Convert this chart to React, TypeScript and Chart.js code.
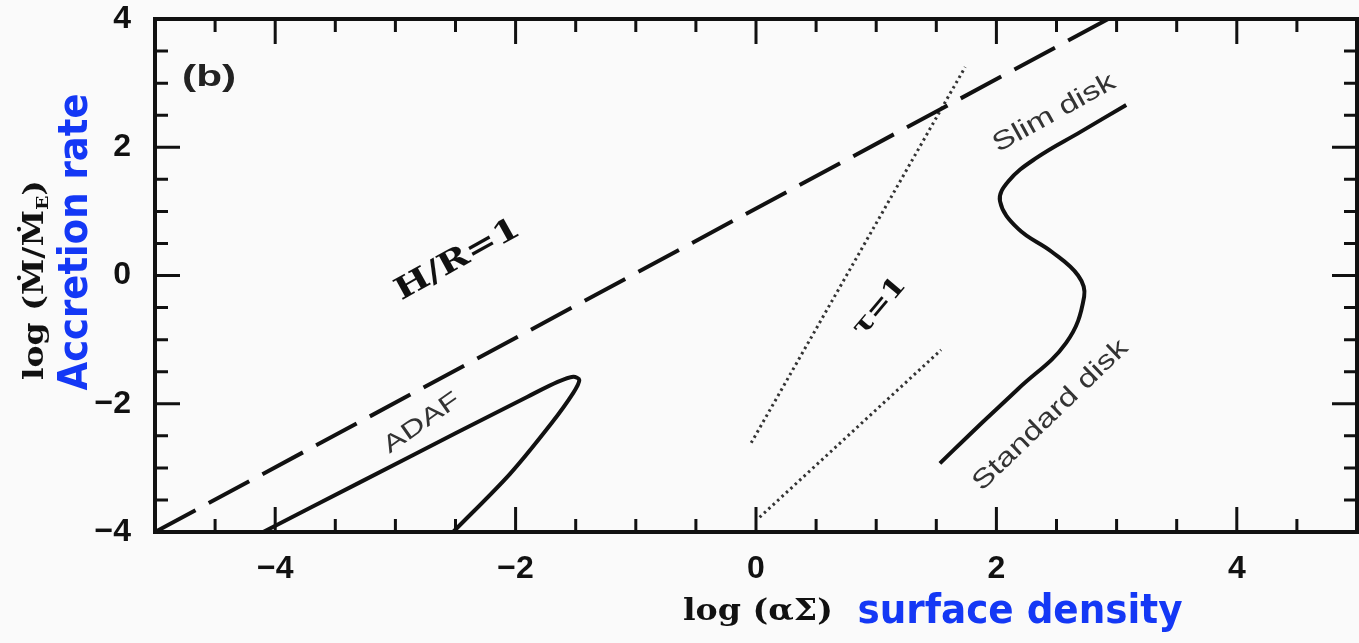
import React, { useEffect, useRef } from "react";
import { Chart, registerables } from "chart.js";

Chart.register(...registerables);

// ---- axis ticks ----
const xTickValues = [-4, -2, 0, 2, 4];
const xTickLabels = ["−4", "−2", "0", "2", "4"];
const yTickValues = [-4, -2, 0, 2, 4];
const yTickLabels = ["−4", "−2", "0", "2", "4"];
const xMinorTicks = [-4.5, -3.5, -3, -2.5, -1.5, -1, -0.5, 0.5, 1, 1.5, 2.5, 3, 3.5, 4.5];
const yMinorTicks = [-3.5, -3, -2.5, -1.5, -1, -0.5, 0.5, 1, 1.5, 2.5, 3, 3.5];

// ---- curves ----
const hrX = [-5, 2.93];
const hrY = [-4, 4];

const adafX = [-4.1, -3.3, -2.5, -1.9, -1.65, -1.52, -1.47, -1.52, -1.7, -2.05, -2.52];
const adafY = [-4, -3.23, -2.46, -1.89, -1.66, -1.58, -1.63, -1.83, -2.3, -3.1, -4];

const diskX = [1.53, 1.85, 2.18, 2.58, 2.73, 2.68, 2.46, 2.18, 2.03, 2.1, 2.33, 2.7, 3.08];
const diskY = [-2.93, -2.35, -1.77, -1.05, -0.33, 0.0, 0.37, 0.73, 1.16, 1.47, 1.83, 2.24, 2.66];

const tauUpperX = [-0.04, 1.74];
const tauUpperY = [-2.61, 3.25];
const tauLowerX = [0.03, 1.54];
const tauLowerY = [-3.77, -1.16];

// ---- in-plot labels (data coords) ----
const labelTexts = ["H/R=1", "τ=1", "ADAF", "Slim disk", "Standard disk", "(b)"];
const labelX = [-2.48, 1.03, -2.78, 2.48, 2.45, -4.55];
const labelY = [0.24, -0.49, -2.3, 2.53, -2.18, 3.08];

const pts = (xs: number[], ys: number[]) => xs.map((x, i) => ({ x, y: ys[i] }));

function drawFitted(
  ctx: CanvasRenderingContext2D,
  text: string,
  x: number,
  y: number,
  angleDeg: number,
  font: string,
  color: string,
  width?: number
) {
  ctx.save();
  ctx.translate(x, y);
  ctx.rotate((angleDeg * Math.PI) / 180);
  ctx.font = font;
  ctx.fillStyle = color;
  ctx.textAlign = "center";
  ctx.textBaseline = "middle";
  if (width) {
    const w = ctx.measureText(text).width;
    ctx.scale(width / w, 1);
  }
  ctx.fillText(text, 0, 0);
  ctx.restore();
}

const framePlugin = {
  id: "frame",
  beforeDraw(chart: any) {
    const ctx = chart.ctx;
    ctx.save();
    ctx.fillStyle = "#fafafa";
    ctx.fillRect(0, 0, chart.width, chart.height);
    ctx.restore();
  },
  afterDatasetsDraw(chart: any) {
    const ctx: CanvasRenderingContext2D = chart.ctx;
    const { left, right, top, bottom } = chart.chartArea;
    const xs = chart.scales.x;
    const ys = chart.scales.y;
    ctx.save();
    ctx.strokeStyle = "#111";
    ctx.lineWidth = 4;
    ctx.strokeRect(left, top, right - left, bottom - top);
    ctx.lineWidth = 3;
    const major = 25;
    const minor = 13;
    const xt = (v: number, len: number) => {
      const px = xs.getPixelForValue(v);
      ctx.beginPath();
      ctx.moveTo(px, bottom);
      ctx.lineTo(px, bottom - len);
      ctx.moveTo(px, top);
      ctx.lineTo(px, top + len);
      ctx.stroke();
    };
    const yt = (v: number, len: number) => {
      const py = ys.getPixelForValue(v);
      ctx.beginPath();
      ctx.moveTo(left, py);
      ctx.lineTo(left + len, py);
      ctx.moveTo(right, py);
      ctx.lineTo(right - len, py);
      ctx.stroke();
    };
    xTickValues.forEach((v) => xt(v, major));
    xMinorTicks.forEach((v) => xt(v, minor));
    yTickValues.forEach((v) => yt(v, major));
    yMinorTicks.forEach((v) => yt(v, minor));

    // in-plot labels
    const P = (i: number) => [xs.getPixelForValue(labelX[i]), ys.getPixelForValue(labelY[i])];
    let p = P(0);
    drawFitted(ctx, labelTexts[0], p[0], p[1], -29, 'bold 30px "DejaVu Serif", serif', "#111", 138);
    p = P(1);
    drawFitted(ctx, labelTexts[1], p[0], p[1], -50, 'bold 26px "DejaVu Serif", serif', "#111", 68);
    p = P(2);
    drawFitted(ctx, labelTexts[2], p[0], p[1], -35, '24px "Liberation Sans", Arial, sans-serif', "#333", 88);
    p = P(3);
    drawFitted(ctx, labelTexts[3], p[0], p[1], -29, '26px "Liberation Sans", Arial, sans-serif', "#333", 136);
    p = P(4);
    drawFitted(ctx, labelTexts[4], p[0], p[1], -44, '26px "Liberation Sans", Arial, sans-serif', "#333", 205);
    p = P(5);
    drawFitted(ctx, labelTexts[5], p[0], p[1], 0, 'bold 30px "Liberation Sans", Arial, sans-serif', "#222", 54);

    // axis titles
    const blue = "#1438f5";
    const blueFont = 'bold 40px "Liberation Sans Narrow", "DejaVu Sans Condensed", Arial, sans-serif';
    drawFitted(ctx, "log (αΣ)", 758, 612, 0, 'bold 30px "DejaVu Serif", serif', "#111", 150);
    drawFitted(ctx, "surface density", 1020, 613, 0, blueFont, blue, 325);
    drawFitted(ctx, "Accretion rate", 77, 242, -90, blueFont, blue, 297);

    // y black title with subscript
    ctx.save();
    ctx.translate(36, 280);
    ctx.rotate(-Math.PI / 2);
    const mainFont = 'bold 28px "DejaVu Serif", serif';
    const subFont = 'bold 16px "DejaVu Serif", serif';
    const parts = [
      { t: "log (Ṁ/Ṁ", f: mainFont, dy: 0 },
      { t: "E", f: subFont, dy: 8 },
      { t: ")", f: mainFont, dy: 0 },
    ];
    let total = 0;
    const widths = parts.map((pp) => {
      ctx.font = pp.f;
      const w = ctx.measureText(pp.t).width;
      total += w;
      return w;
    });
    const target = 200;
    ctx.scale(target / total, 1);
    let cx = -total / 2;
    ctx.fillStyle = "#111";
    ctx.textBaseline = "middle";
    ctx.textAlign = "left";
    parts.forEach((pp, i) => {
      ctx.font = pp.f;
      ctx.fillText(pp.t, cx, pp.dy);
      cx += widths[i];
    });
    ctx.restore();

    ctx.restore();
  },
};

export default function App() {
  const ref = useRef<HTMLCanvasElement>(null);
  useEffect(() => {
    document.body.style.margin = "0";
    const canvas = ref.current!;
    const tickFont = { family: '"Liberation Sans", Arial, sans-serif', size: 32, weight: "bold" as const };
    const dotted = {
      showLine: true,
      borderColor: "#333",
      borderWidth: 3,
      borderDash: [2.5, 3.5],
      pointRadius: 0,
      tension: 0,
    };
    const chart = new Chart(canvas, {
      type: "scatter",
      data: {
        datasets: [
          {
            data: pts(hrX, hrY),
            showLine: true,
            borderColor: "#111",
            borderWidth: 4,
            borderDash: [46, 15],
            pointRadius: 0,
            tension: 0,
          },
          {
            data: pts(adafX, adafY),
            showLine: true,
            borderColor: "#111",
            borderWidth: 4,
            pointRadius: 0,
            tension: 0.3,
          },
          {
            data: pts(diskX, diskY),
            showLine: true,
            borderColor: "#111",
            borderWidth: 4,
            pointRadius: 0,
            tension: 0.4,
          },
          { data: pts(tauUpperX, tauUpperY), ...dotted },
          { data: pts(tauLowerX, tauLowerY), ...dotted },
        ],
      },
      options: {
        animation: false,
        responsive: false,
        layout: { padding: { top: 19, right: 2, left: 0, bottom: 0 } },
        plugins: { legend: { display: false }, tooltip: { enabled: false }, title: { display: false } },
        scales: {
          x: {
            type: "linear",
            min: -5,
            max: 5,
            grid: { display: false, drawTicks: false },
            border: { display: false },
            afterBuildTicks: (s: any) => {
              s.ticks = xTickValues.map((v) => ({ value: v }));
            },
            afterFit: (s: any) => {
              s.height = 111;
              s.paddingLeft = 0;
              s.paddingRight = 0;
              s.paddingTop = 0;
              s.paddingBottom = 0;
            },
            ticks: {
              autoSkip: false,
              maxRotation: 0,
              padding: 18,
              color: "#111",
              font: tickFont,
              callback: (_v: any, i: number) => xTickLabels[i],
            },
          },
          y: {
            type: "linear",
            min: -4,
            max: 4,
            grid: { display: false, drawTicks: false },
            border: { display: false },
            afterBuildTicks: (s: any) => {
              s.ticks = yTickValues.map((v) => ({ value: v }));
            },
            afterFit: (s: any) => {
              s.width = 155;
              s.paddingLeft = 0;
              s.paddingRight = 0;
              s.paddingTop = 0;
              s.paddingBottom = 0;
            },
            ticks: {
              autoSkip: false,
              padding: 24,
              color: "#111",
              font: tickFont,
              callback: (_v: any, i: number) => yTickLabels[i],
            },
          },
        },
      },
      plugins: [framePlugin],
    });
    return () => chart.destroy();
  }, []);
  return (
    <div style={{ width: 1359, height: 643 }}>
      <canvas ref={ref} width={1359} height={643} />
    </div>
  );
}
